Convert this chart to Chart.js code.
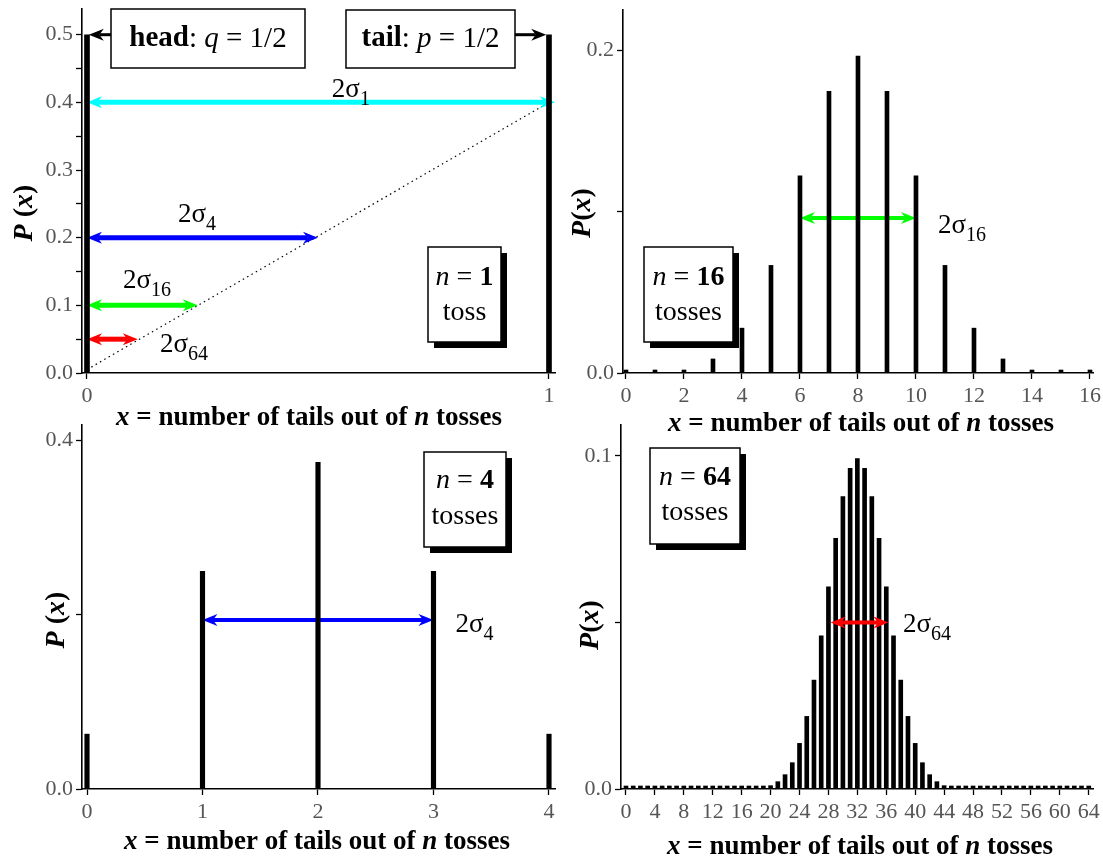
<!DOCTYPE html>
<html>
<head>
<meta charset="utf-8">
<script src="https://cdn.jsdelivr.net/npm/chart.js@4.4.1/dist/chart.umd.min.js"></script>
<style>
html, body { margin: 0; padding: 0; background: #fff; }
body { width: 1103px; height: 859px; position: relative; overflow: hidden; }
canvas { position: absolute; }
</style>
</head>
<body>
<canvas id="c1" width="560" height="440" style="left:0;top:0"></canvas>
<canvas id="c2" width="543" height="440" style="left:560px;top:0"></canvas>
<canvas id="c3" width="560" height="439" style="left:0;top:420px"></canvas>
<canvas id="c4" width="543" height="439" style="left:560px;top:420px"></canvas>
<script>
// probabilities, one series per number of tosses
const tails1 = [0, 1];
const prob1 = [0.5, 0.5];

const tails4 = [0, 1, 2, 3, 4];
const prob4 = [0.063, 0.25, 0.375, 0.25, 0.063];

const tails16 = [0, 1, 2, 3, 4, 5, 6, 7, 8, 9, 10, 11, 12, 13, 14, 15, 16];
const prob16 = [0.00002, 0.0002, 0.0018, 0.0087, 0.0278, 0.0667, 0.1222, 0.1746, 0.1964,
                0.1746, 0.1222, 0.0667, 0.0278, 0.0087, 0.0018, 0.0002, 0.00002];

const tails64 = [0, 1, 2, 3, 4, 5, 6, 7, 8, 9, 10, 11, 12, 13, 14, 15, 16, 17, 18, 19, 20,
                 21, 22, 23, 24, 25, 26, 27, 28, 29, 30, 31, 32, 33, 34, 35, 36, 37, 38, 39, 40,
                 41, 42, 43, 44, 45, 46, 47, 48, 49, 50, 51, 52, 53, 54, 55, 56, 57, 58, 59, 60,
                 61, 62, 63, 64];
const prob64 = [0, 0, 0, 0, 0, 0, 0, 0, 0, 0, 0, 0, 0, 0, 0, 0,
                0.00001, 0.00007, 0.0002, 0.0005, 0.0010, 0.0022, 0.0043, 0.0079, 0.0137,
                0.0218, 0.0327, 0.0460, 0.0607, 0.0753, 0.0878, 0.0963, 0.0992,
                0.0963, 0.0878, 0.0753, 0.0607, 0.0460, 0.0327, 0.0218, 0.0137,
                0.0079, 0.0043, 0.0022, 0.0010, 0.0005, 0.0002, 0.00007, 0.00001,
                0, 0, 0, 0, 0, 0, 0, 0, 0, 0, 0, 0, 0, 0, 0, 0];

// tick positions and labels
const xTicks1 = [0, 1];
const xLabels1 = ['0', '1'];
const yTicks1 = [0, 0.05, 0.1, 0.15, 0.2, 0.25, 0.3, 0.35, 0.4, 0.45, 0.5];
const yLabels1 = ['0.0', '', '0.1', '', '0.2', '', '0.3', '', '0.4', '', '0.5'];

const xTicks4 = [0, 1, 2, 3, 4];
const xLabels4 = ['0', '1', '2', '3', '4'];
const yTicks4 = [0, 0.2, 0.4];
const yLabels4 = ['0.0', '', '0.4'];

const xTicks16 = [0, 2, 4, 6, 8, 10, 12, 14, 16];
const xLabels16 = ['0', '2', '4', '6', '8', '10', '12', '14', '16'];
const yTicks16 = [0, 0.1, 0.2];
const yLabels16 = ['0.0', '', '0.2'];

const xTicks64 = [0, 4, 8, 12, 16, 20, 24, 28, 32, 36, 40, 44, 48, 52, 56, 60, 64];
const xLabels64 = ['0', '4', '8', '12', '16', '20', '24', '28', '32', '36', '40', '44', '48', '52', '56', '60', '64'];
const yTicks64 = [0, 0.05, 0.1];
const yLabels64 = ['0.0', '', '0.1'];

// 2 sigma widths (x from, x to, at height y) and where their labels sit
const sigmaArrows1 = [
    { y: 0.4, x0: 0, x1: 1.013, color: '#00ffff', sub: '1', lx: 0.53, ly: 0.408 },
    { y: 0.2, x0: 0, x1: 0.5, color: '#0000ff', sub: '4', lx: 0.197, ly: 0.223 },
    { y: 0.1, x0: 0, x1: 0.24, color: '#00ff00', sub: '16', lx: 0.078, ly: 0.126 },
    { y: 0.05, x0: 0, x1: 0.11, color: '#ff0000', sub: '64', lx: 0.158, ly: 0.031 }
];
const sigmaArrows4 = [{ y: 0.194, x0: 1, x1: 3, color: '#0000ff', sub: '4', lx: 3.19, ly: 0.18 }];
const sigmaArrows16 = [{ y: 0.096, x0: 6, x1: 10, color: '#00ff00', sub: '16', lx: 10.76, ly: 0.087 }];
const sigmaArrows64 = [{ y: 0.05, x0: 28.3, x1: 36.3, color: '#ff0000', sub: '64', lx: 38.3, ly: 0.047 }];

const FONT = '"Liberation Serif", "Times New Roman", Times, serif';
const TICK_FONT = { family: FONT, size: 22 };

const X_TITLE = [{ t: 'x', i: 1, b: 1 }, { t: ' = number of tails out of ', b: 1 }, { t: 'n', i: 1, b: 1 }, { t: ' tosses', b: 1 }];
const Y_TITLE_SP = [{ t: 'P', i: 1, b: 1 }, { t: ' (', b: 1 }, { t: 'x', i: 1, b: 1 }, { t: ')', b: 1 }];
const Y_TITLE = [{ t: 'P', i: 1, b: 1 }, { t: '(', b: 1 }, { t: 'x', i: 1, b: 1 }, { t: ')', b: 1 }];

function fontOf(s, size) {
    return (s.i ? 'italic ' : '') + (s.b ? 'bold ' : '') + size + 'px ' + FONT;
}

function drawRich(ctx, segs, x, y, size) {
    let w = 0;
    segs.forEach(s => { ctx.font = fontOf(s, size); w += ctx.measureText(s.t).width; });
    let cx = x - w / 2;
    ctx.textAlign = 'left';
    ctx.textBaseline = 'middle';
    ctx.fillStyle = '#000';
    segs.forEach(s => {
        ctx.font = fontOf(s, size);
        ctx.fillText(s.t, cx, y);
        cx += ctx.measureText(s.t).width;
    });
}

function drawArrow(ctx, xa, xb, y, color, width, both) {
    const hl = 15, hw = 6;
    const dir = Math.sign(xb - xa);
    ctx.strokeStyle = color;
    ctx.fillStyle = color;
    ctx.lineWidth = width;
    ctx.beginPath();
    ctx.moveTo(both ? xa + dir * hl * 0.7 : xa, y);
    ctx.lineTo(xb - dir * hl * 0.7, y);
    ctx.stroke();
    const head = (tx, back) => {
        ctx.beginPath();
        ctx.moveTo(tx, y);
        ctx.lineTo(tx + back * hl, y - hw);
        ctx.lineTo(tx + back * hl * 0.7, y);
        ctx.lineTo(tx + back * hl, y + hw);
        ctx.closePath();
        ctx.fill();
    };
    head(xb, -dir);
    if (both) head(xa, dir);
}

function drawBox(ctx, b) {
    if (b.shadow !== false) {
        ctx.fillStyle = '#000';
        ctx.fillRect(b.x + 6, b.y + 6, b.w, b.h);
    }
    ctx.fillStyle = '#fff';
    ctx.fillRect(b.x, b.y, b.w, b.h);
    ctx.strokeStyle = '#000';
    ctx.lineWidth = 1.5;
    ctx.strokeRect(b.x, b.y, b.w, b.h);
}

function sigmaArrows(chart, spec) {
    const ctx = chart.ctx, sx = chart.scales.x, sy = chart.scales.y;
    spec.arrows.forEach(a => {
        drawArrow(ctx, sx.getPixelForValue(a.x0), sx.getPixelForValue(a.x1),
            sy.getPixelForValue(a.y), a.color, spec.arrowWidth, true);
    });
}

function decorPlugin(spec) {
    return {
        id: 'decor',
        beforeDatasetsDraw(chart) {
            const ctx = chart.ctx, sx = chart.scales.x, sy = chart.scales.y;
            ctx.save();
            if (spec.dotted) {
                const d = spec.dotted;
                ctx.strokeStyle = '#000';
                ctx.lineWidth = 1.2;
                ctx.setLineDash([1.5, 3.5]);
                ctx.beginPath();
                ctx.moveTo(sx.getPixelForValue(d.x0), sy.getPixelForValue(d.y0));
                ctx.lineTo(sx.getPixelForValue(d.x1), sy.getPixelForValue(d.y1));
                ctx.stroke();
                ctx.setLineDash([]);
            }
            if (!spec.arrowsOnTop) sigmaArrows(chart, spec);
            ctx.restore();
        },
        afterDraw(chart) {
            const ctx = chart.ctx, sx = chart.scales.x, sy = chart.scales.y;
            ctx.save();
            if (spec.arrowsOnTop) sigmaArrows(chart, spec);
            (spec.pointers || []).forEach(p => {
                drawArrow(ctx, sx.getPixelForValue(p.x0), sx.getPixelForValue(p.x1),
                    sy.getPixelForValue(p.y), '#000', 3, false);
            });
            // 2 sigma labels
            spec.arrows.forEach(a => {
                const px = sx.getPixelForValue(a.lx), py = sy.getPixelForValue(a.ly);
                ctx.fillStyle = '#000';
                ctx.textAlign = 'left';
                ctx.textBaseline = 'alphabetic';
                ctx.font = '27px ' + FONT;
                ctx.fillText('2σ', px, py);
                const w = ctx.measureText('2σ').width;
                ctx.font = '20px ' + FONT;
                ctx.fillText(a.sub, px + w, py + 8);
            });
            // text boxes
            spec.boxes.forEach(b => {
                drawBox(ctx, b);
                b.lines.forEach(l => drawRich(ctx, l.segs, b.x + b.w / 2, l.y, b.size));
            });
            // axis titles
            drawRich(ctx, X_TITLE, spec.xTitle[0], spec.xTitle[1], 27);
            ctx.save();
            ctx.translate(spec.yTitle[0], spec.yTitle[1]);
            ctx.rotate(-Math.PI / 2);
            drawRich(ctx, spec.yTitleSegs, 0, 0, 28);
            ctx.restore();
            ctx.restore();
        }
    };
}

function makeChart(id, xs, ys, opt) {
    const ctx = document.getElementById(id).getContext('2d');
    return new Chart(ctx, {
        type: 'bar',
        data: {
            datasets: [{
                data: xs.map((x, i) => ({ x: x, y: ys[i] })),
                backgroundColor: '#000',
                borderWidth: 0,
                barThickness: opt.bar,
                minBarLength: 3
            }]
        },
        options: {
            responsive: false,
            animation: false,
            devicePixelRatio: 1,
            layout: { padding: opt.pad },
            plugins: { legend: { display: false }, tooltip: { enabled: false } },
            scales: {
                x: {
                    type: 'linear',
                    min: opt.xMin,
                    max: opt.xMax,
                    offset: false,
                    afterBuildTicks: s => { s.ticks = opt.xTicks.map(v => ({ value: v })); },
                    afterFit: s => { s.height = opt.xH; s.paddingLeft = 0; s.paddingRight = 0; },
                    ticks: {
                        autoSkip: false, maxRotation: 0, padding: 4,
                        color: '#555', font: TICK_FONT,
                        callback: (v, i) => opt.xLabels[i]
                    },
                    grid: { drawOnChartArea: false, offset: false, tickLength: 6, tickColor: '#000', tickWidth: 1.3 },
                    border: { display: true, color: '#000', width: 1.6 }
                },
                y: {
                    min: 0,
                    max: opt.yMax,
                    afterBuildTicks: s => { s.ticks = opt.yTicks.map(v => ({ value: v })); },
                    afterFit: s => { s.width = opt.yW; s.paddingTop = 0; s.paddingBottom = 0; },
                    ticks: {
                        autoSkip: false, padding: 3,
                        color: '#555', font: TICK_FONT,
                        callback: (v, i) => opt.yLabels[i]
                    },
                    grid: { drawOnChartArea: false, tickLength: 6, tickColor: '#000', tickWidth: 1.3 },
                    border: { display: true, color: '#000', width: 1.6 }
                }
            }
        },
        plugins: [decorPlugin(opt.decor)]
    });
}

const nLine = (n, y) => ({ y: y, segs: [{ t: 'n', i: 1 }, { t: ' = ' }, { t: n, b: 1 }] });
const wLine = (w, y) => ({ y: y, segs: [{ t: w }] });

makeChart('c1', tails1, prob1, {
    bar: 5, pad: { top: 9, right: 5, left: 0, bottom: 0 }, yW: 82, xH: 67,
    xMin: -0.0108, xMax: 1.013, yMax: 0.538,
    xTicks: xTicks1, xLabels: xLabels1, yTicks: yTicks1, yLabels: yLabels1,
    decor: {
        arrows: sigmaArrows1, arrowWidth: 5,
        dotted: { x0: 0, y0: 0.005, x1: 1, y1: 0.4 },
        pointers: [{ y: 0.5, x0: 0.052, x1: 0.004 }, { y: 0.5, x0: 0.926, x1: 0.994 }],
        boxes: [
            { x: 111, y: 9, w: 194, h: 59, size: 29, shadow: false,
              lines: [{ y: 39, segs: [{ t: 'head', b: 1 }, { t: ': ' }, { t: 'q', i: 1 }, { t: ' = 1/2' }] }] },
            { x: 346, y: 10, w: 169, h: 58, size: 29, shadow: false,
              lines: [{ y: 39, segs: [{ t: 'tail', b: 1 }, { t: ': ' }, { t: 'p', i: 1 }, { t: ' = 1/2' }] }] },
            { x: 428, y: 247, w: 73, h: 95, size: 28, lines: [nLine('1', 278), wLine('toss', 313)] }
        ],
        xTitle: [309, 418], yTitle: [25, 213], yTitleSegs: Y_TITLE_SP
    }
});

makeChart('c2', tails16, prob16, {
    bar: 4, pad: { top: 10, right: 10, left: 0, bottom: 0 }, yW: 63, xH: 67,
    xMin: -0.103, xMax: 16.104, yMax: 0.225,
    xTicks: xTicks16, xLabels: xLabels16, yTicks: yTicks16, yLabels: yLabels16,
    decor: {
        arrows: sigmaArrows16, arrowWidth: 4,
        boxes: [{ x: 84, y: 247, w: 89, h: 95, size: 28, lines: [nLine('16', 278), wLine('tosses', 313)] }],
        xTitle: [301, 424], yTitle: [23, 213], yTitleSegs: Y_TITLE
    }
});

makeChart('c3', tails4, prob4, {
    bar: 4.5, pad: { top: 5, right: 5, left: 0, bottom: 0 }, yW: 82, xH: 70,
    xMin: -0.0433, xMax: 4.052, yMax: 0.418,
    xTicks: xTicks4, xLabels: xLabels4, yTicks: yTicks4, yLabels: yLabels4,
    decor: {
        arrows: sigmaArrows4, arrowWidth: 4,
        boxes: [{ x: 424, y: 32, w: 82, h: 95, size: 28, lines: [nLine('4', 61), wLine('tosses', 97)] }],
        xTitle: [317, 422], yTitle: [57, 200], yTitleSegs: Y_TITLE_SP
    }
});

makeChart('c4', tails64, prob64, {
    bar: 4, pad: { top: 5, right: 10, left: 0, bottom: 0 }, yW: 61, xH: 70,
    xMin: -0.69, xMax: 64.59, yMax: 0.1093,
    xTicks: xTicks64, xLabels: xLabels64, yTicks: yTicks64, yLabels: yLabels64,
    decor: {
        arrows: sigmaArrows64, arrowWidth: 4, arrowsOnTop: true,
        boxes: [{ x: 90, y: 28, w: 90, h: 96, size: 28, lines: [nLine('64', 58), wLine('tosses', 93)] }],
        xTitle: [300, 427], yTitle: [31, 205], yTitleSegs: Y_TITLE
    }
});
</script>
</body>
</html>
